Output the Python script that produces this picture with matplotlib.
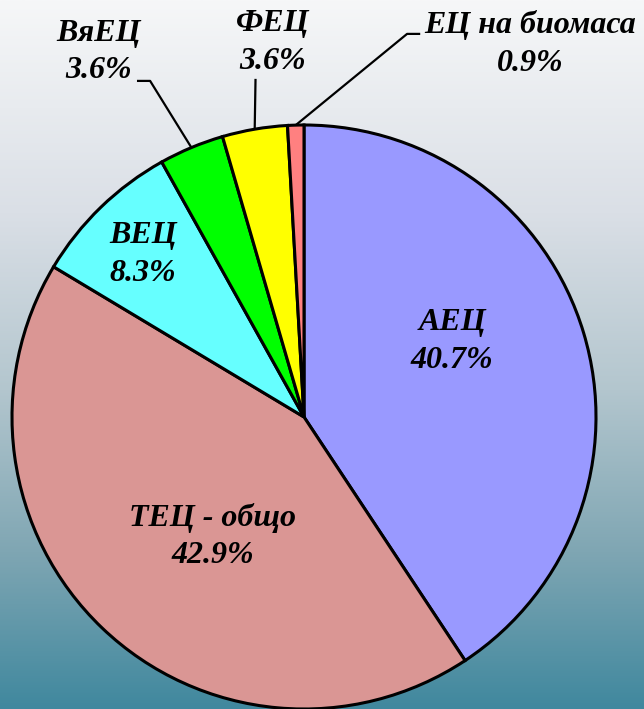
import numpy as np
import matplotlib.pyplot as plt
from matplotlib.colors import LinearSegmentedColormap

# data
labels = ["АЕЦ", "ТЕЦ - общо", "ВЕЦ", "ВяЕЦ", "ФЕЦ", "ЕЦ на биомаса"]
shares = [40.7, 42.9, 8.3, 3.6, 3.6, 0.9]
colors = ["#9999FF", "#DA9694", "#66FFFF", "#00FF00", "#FFFF00", "#FF8080"]

# label placement (data coords, pie radius = 1)
inner_pos = {0: (0.507, 0.258), 1: (-0.312, -0.409), 2: (-0.551, 0.556)}
outer_pos = {3: (-0.705, 1.25), 4: (-0.106, 1.283), 5: (0.774, 1.277)}
# elbow points of the leader lines
elbows = {3: [(-0.572, 1.151), (-0.527, 1.151)],
          4: [(-0.166, 1.158)],
          5: [(0.398, 1.312), (0.353, 1.312)]}

font = dict(family="Liberation Serif", weight="bold", style="italic",
            size=23, linespacing=1.38)

fig = plt.figure(figsize=(6.44, 7.09), dpi=100)

# background gradient
bg = fig.add_axes([0, 0, 1, 1])
bg.set_axis_off()
cmap = LinearSegmentedColormap.from_list(
    "bg", [(0, "#F6F7F8"), (0.3, "#DADFE6"), (0.55, "#B3C6CE"),
           (0.78, "#7FA6B3"), (1, "#40889E")])
grad = np.linspace(0, 1, 256).reshape(-1, 1)
bg.imshow(grad, aspect="auto", cmap=cmap, extent=[0, 1, 0, 1], origin="upper")

r_px = 292
ax = fig.add_axes([(304 - r_px) / 644, (709 - 417 - r_px) / 709,
                   2 * r_px / 644, 2 * r_px / 709])
ax.set_axis_off()
wedges, _ = ax.pie(shares, colors=colors, startangle=90, counterclock=False,
                   radius=1,
                   wedgeprops=dict(edgecolor="black", linewidth=2.2))
for w in wedges:
    w.set_clip_on(False)
ax.set_xlim(-1, 1)
ax.set_ylim(-1, 1)

for i, (lab, val) in enumerate(zip(labels, shares)):
    txt = f"{lab}\n{val:.1f}%"
    if i in inner_pos:
        x, y = inner_pos[i]
        ax.text(x, y, txt, ha="center", va="center", **font)
    else:
        x, y = outer_pos[i]
        ax.text(x, y, txt, ha="center", va="center", clip_on=False, **font)
        w = wedges[i]
        mid = np.deg2rad((w.theta1 + w.theta2) / 2)
        pts = elbows[i] + [(np.cos(mid), np.sin(mid))]
        xs, ys = zip(*pts)
        ax.plot(xs, ys, color="black", lw=1.6, clip_on=False,
                solid_capstyle="butt")

fig.savefig("out.png", dpi=100)
